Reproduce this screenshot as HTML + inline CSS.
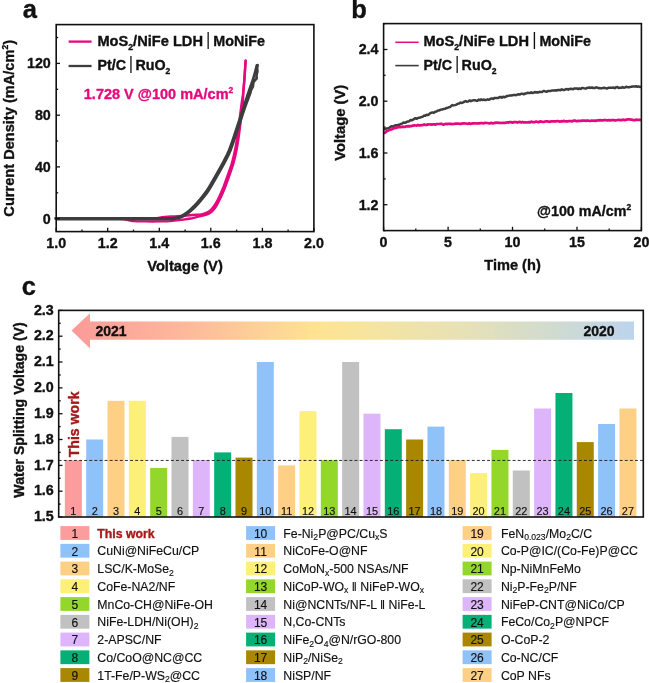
<!DOCTYPE html>
<html><head><meta charset="utf-8"><title>Figure</title>
<style>
html,body{margin:0;padding:0;background:#fff;}
svg{display:block;}
text{font-family:"Liberation Sans",Arial,Helvetica,sans-serif;fill:#111;stroke:#111;stroke-width:.15px;}
.b{font-weight:bold;stroke:#111;stroke-width:.35px;stroke-linejoin:round;}
</style></head><body>
<svg width="649" height="683" viewBox="0 0 649 683">
<defs>
<linearGradient id="ag" x1="0" y1="0" x2="1" y2="0">
<stop offset="0" stop-color="#fb9a99"/>
<stop offset="0.22" stop-color="#fdbc9b"/>
<stop offset="0.36" stop-color="#fed597"/>
<stop offset="0.435" stop-color="#ffe391"/>
<stop offset="0.55" stop-color="#f4e4a3"/>
<stop offset="0.70" stop-color="#e7e1b7"/>
<stop offset="0.85" stop-color="#d1dbcf"/>
<stop offset="1" stop-color="#bcd4ec"/>
</linearGradient>
</defs>
<rect x="0" y="0" width="649" height="683" fill="#fff"/>

<g id="panel-a">
<text class="b" x="22.8" y="17.8" font-size="25.5">a</text>
<path d="M56.0,218.9C66.3,218.9 106.6,218.9 118.0,218.9C129.4,218.9 122.7,219.0 124.5,219.2C126.3,219.4 127.4,219.9 129.0,220.2C130.6,220.5 131.3,220.9 134.0,221.1C136.7,221.3 140.7,221.3 145.0,221.4C149.3,221.5 155.8,221.5 160.0,221.4C164.2,221.3 166.4,221.3 170.0,221.1C173.6,220.8 177.9,220.4 181.6,219.9C185.3,219.4 189.2,218.8 192.4,218.2C195.6,217.5 198.6,216.5 200.6,216.0C202.6,215.5 203.2,215.6 204.6,215.2C205.9,214.8 207.3,214.4 208.7,213.7C210.0,212.9 211.4,212.1 212.7,210.7C214.0,209.3 215.4,207.5 216.7,205.3C218.0,203.1 219.3,200.5 220.7,197.6C222.0,194.7 223.4,191.4 224.8,188.0C226.1,184.6 227.5,180.8 228.8,177.1C230.1,173.3 231.8,168.6 232.8,165.5C233.8,162.4 234.0,161.3 234.6,158.7C235.2,156.1 236.0,152.8 236.6,149.7C237.2,146.6 237.7,143.5 238.2,140.2C238.7,136.9 239.1,133.9 239.6,130.0C240.1,126.1 240.8,120.8 241.3,116.7C241.8,112.6 242.5,109.2 242.8,105.1C243.1,101.0 243.1,96.1 243.3,92.0C243.6,87.9 244.0,84.0 244.3,80.3C244.6,76.6 244.8,73.3 245.0,70.0C245.2,66.7 245.5,62.2 245.6,60.6" fill="none" stroke="#e5087e" stroke-width="2.4" stroke-linejoin="round" stroke-linecap="round"/>
<path d="M56.0,218.7C66.7,218.7 104.3,218.7 120.0,218.7C135.7,218.7 143.8,218.7 150.0,218.6C156.2,218.5 155.0,218.4 157.0,218.2C159.0,218.0 160.2,217.5 162.0,217.2C163.8,216.9 165.8,216.7 168.0,216.6C170.2,216.5 172.7,216.5 175.0,216.4C177.3,216.3 178.7,216.2 181.6,216.0C184.5,215.8 189.4,215.2 192.4,215.0C195.4,214.8 197.6,214.8 199.4,214.6C201.2,214.4 202.1,214.2 203.4,213.8C204.8,213.4 206.2,213.1 207.5,212.3C208.8,211.6 210.2,210.7 211.5,209.3C212.8,207.9 214.2,206.1 215.5,203.9C216.8,201.7 218.2,199.1 219.5,196.2C220.8,193.3 222.2,190.0 223.6,186.6C224.9,183.2 226.3,179.5 227.6,175.7C228.9,172.0 230.6,167.2 231.6,164.1C232.6,161.0 232.8,159.9 233.4,157.3C234.0,154.7 234.8,151.4 235.4,148.3C236.0,145.2 236.5,142.1 237.0,138.8C237.5,135.5 237.9,132.5 238.4,128.6C238.9,124.7 239.6,119.5 240.1,115.3C240.6,111.1 241.1,107.6 241.6,103.7C242.1,99.8 242.9,95.9 243.3,92.0C243.8,88.1 244.0,84.0 244.3,80.3C244.6,76.6 244.8,73.3 245.0,70.0C245.2,66.7 245.5,62.2 245.6,60.6" fill="none" stroke="#e5087e" stroke-width="2.4" stroke-linejoin="round" stroke-linecap="round"/>
<path d="M55.5,218.4C66.2,218.4 101.2,218.4 119.5,218.4C137.8,218.4 156.5,218.5 165.5,218.4C174.5,218.3 171.0,218.3 173.5,218.0C176.0,217.7 178.2,217.3 180.5,216.4C182.8,215.4 185.3,213.7 187.2,212.3C189.1,210.9 190.4,209.6 192.1,208.0C193.8,206.4 195.6,204.6 197.3,202.6C199.1,200.6 200.9,198.5 202.6,196.3C204.3,194.1 205.4,192.9 207.6,189.5C209.8,186.1 212.9,180.5 215.6,175.8C218.3,171.1 221.4,165.6 223.7,161.3C226.0,156.9 227.3,154.7 229.3,149.7C231.3,144.7 233.2,138.7 235.7,131.2C238.2,123.7 242.3,111.2 244.5,104.7C246.7,98.2 247.2,96.0 248.6,92.0C249.9,88.0 251.5,83.8 252.6,80.6C253.7,77.3 254.3,75.0 255.0,72.5C255.7,70.0 256.5,66.6 256.8,65.4" fill="none" stroke="#3d3d3d" stroke-width="2.7" stroke-linejoin="round" stroke-linecap="round"/>
<path d="M56.6,219.1C67.3,219.1 102.3,219.1 120.6,219.1C138.9,219.1 157.6,219.2 166.6,219.1C175.6,219.0 172.1,219.0 174.6,218.7C177.1,218.4 179.3,218.1 181.6,217.1C183.9,216.1 186.4,214.4 188.3,213.0C190.2,211.6 191.5,210.3 193.2,208.7C194.9,207.1 196.7,205.2 198.4,203.3C200.2,201.4 202.0,199.2 203.7,197.0C205.4,194.8 206.5,193.6 208.7,190.2C210.9,186.8 214.0,181.2 216.7,176.5C219.4,171.8 222.5,166.3 224.8,162.0C227.1,157.7 228.4,155.4 230.4,150.4C232.4,145.4 234.3,139.4 236.8,131.9C239.3,124.4 244.1,109.8 245.6,105.4 L250.3,93 L251.2,89.5 L252.9,86.5 L253.3,82.6 L254.9,80.3 L256.6,78.6 L256.5,75 L257.4,71.5 L257.1,68 L257.6,65.2" fill="none" stroke="#3d3d3d" stroke-width="2.7" stroke-linejoin="round" stroke-linecap="round"/>
<rect x="56.2" y="24.6" width="257.7" height="207.0" fill="none" stroke="#111" stroke-width="1.6"/>
<line x1="56.2" y1="231.6" x2="56.2" y2="227.79999999999998" stroke="#111" stroke-width="1.3"/>
<line x1="82.0" y1="231.6" x2="82.0" y2="229.6" stroke="#111" stroke-width="1.3"/>
<line x1="107.7" y1="231.6" x2="107.7" y2="227.79999999999998" stroke="#111" stroke-width="1.3"/>
<line x1="133.5" y1="231.6" x2="133.5" y2="229.6" stroke="#111" stroke-width="1.3"/>
<line x1="159.3" y1="231.6" x2="159.3" y2="227.79999999999998" stroke="#111" stroke-width="1.3"/>
<line x1="185.1" y1="231.6" x2="185.1" y2="229.6" stroke="#111" stroke-width="1.3"/>
<line x1="210.8" y1="231.6" x2="210.8" y2="227.79999999999998" stroke="#111" stroke-width="1.3"/>
<line x1="236.6" y1="231.6" x2="236.6" y2="229.6" stroke="#111" stroke-width="1.3"/>
<line x1="262.4" y1="231.6" x2="262.4" y2="227.79999999999998" stroke="#111" stroke-width="1.3"/>
<line x1="288.1" y1="231.6" x2="288.1" y2="229.6" stroke="#111" stroke-width="1.3"/>
<line x1="313.9" y1="231.6" x2="313.9" y2="227.79999999999998" stroke="#111" stroke-width="1.3"/>
<line x1="56.2" y1="218.7" x2="60.0" y2="218.7" stroke="#111" stroke-width="1.3"/>
<line x1="56.2" y1="192.8" x2="58.2" y2="192.8" stroke="#111" stroke-width="1.3"/>
<line x1="56.2" y1="166.9" x2="60.0" y2="166.9" stroke="#111" stroke-width="1.3"/>
<line x1="56.2" y1="141.0" x2="58.2" y2="141.0" stroke="#111" stroke-width="1.3"/>
<line x1="56.2" y1="115.2" x2="60.0" y2="115.2" stroke="#111" stroke-width="1.3"/>
<line x1="56.2" y1="89.3" x2="58.2" y2="89.3" stroke="#111" stroke-width="1.3"/>
<line x1="56.2" y1="63.4" x2="60.0" y2="63.4" stroke="#111" stroke-width="1.3"/>
<line x1="56.2" y1="37.5" x2="58.2" y2="37.5" stroke="#111" stroke-width="1.3"/>
<text class="b" x="56.2" y="247.6" font-size="14.3" text-anchor="middle">1.0</text>
<text class="b" x="107.7" y="247.6" font-size="14.3" text-anchor="middle">1.2</text>
<text class="b" x="159.3" y="247.6" font-size="14.3" text-anchor="middle">1.4</text>
<text class="b" x="210.8" y="247.6" font-size="14.3" text-anchor="middle">1.6</text>
<text class="b" x="262.4" y="247.6" font-size="14.3" text-anchor="middle">1.8</text>
<text class="b" x="313.9" y="247.6" font-size="14.3" text-anchor="middle">2.0</text>
<text class="b" x="50.8" y="223.6" font-size="14.3" text-anchor="end">0</text>
<text class="b" x="50.8" y="171.8" font-size="14.3" text-anchor="end">40</text>
<text class="b" x="50.8" y="120.1" font-size="14.3" text-anchor="end">80</text>
<text class="b" x="50.8" y="68.3" font-size="14.3" text-anchor="end">120</text>
<text class="b" x="185" y="270.8" font-size="14.5" text-anchor="middle" textLength="75.6" lengthAdjust="spacingAndGlyphs">Voltage (V)</text>
<text class="b" transform="translate(13.9,128.3) rotate(-90)" font-size="14.6" text-anchor="middle">Current Density (mA/cm<tspan font-size="8.5" dy="-5.5">2</tspan><tspan dy="5.5">)</tspan></text>
<line x1="68.6" y1="41.6" x2="91.6" y2="41.6" stroke="#e5087e" stroke-width="2.3"/>
<line x1="68.6" y1="66" x2="91.6" y2="66" stroke="#3d3d3d" stroke-width="2.3"/>
<text class="b" x="97.4" y="46" font-size="14.3" textLength="105.6" lengthAdjust="spacingAndGlyphs">MoS<tspan font-size="8.5" dy="3.5">2</tspan><tspan dy="-3.5">/NiFe LDH</tspan></text>
<text transform="translate(208.2,45.1) scale(0.9,1.1)" font-size="16.5" text-anchor="middle">|</text>
<text class="b" x="213.3" y="46" font-size="14.3">MoNiFe</text>
<text class="b" x="97.4" y="70.1" font-size="14.3">Pt/C</text>
<text transform="translate(131.0,69.2) scale(0.9,1.1)" font-size="16.5" text-anchor="middle">|</text>
<text class="b" x="135.4" y="70.1" font-size="14.3">RuO<tspan font-size="8.5" dy="3.5">2</tspan></text>
<text class="b" x="83.8" y="98.6" font-size="14.5" style="fill:#e5087e;stroke:#e5087e">1.728 V @100 mA/cm<tspan font-size="8.5" dy="-5.5">2</tspan></text>
</g>
<g id="panel-b">
<text class="b" x="351.3" y="17.6" font-size="25.5">b</text>
<polyline points="383.7,129.3 385.1,129.2 386.5,128.5 387.9,128.3 389.2,127.9 390.6,126.7 392.0,126.2 393.3,126.8 394.5,125.7 395.8,125.2 397.0,125.7 398.3,124.7 399.5,124.7 400.8,123.9 402.0,123.6 403.2,122.6 404.5,122.8 405.7,122.6 406.9,121.8 408.1,121.6 409.4,121.1 410.6,119.9 411.8,120.3 413.0,119.7 414.3,118.9 415.5,118.2 416.7,118.8 417.9,117.9 419.2,117.7 420.4,117.5 421.6,116.9 422.8,116.7 424.0,115.6 425.3,115.7 426.5,114.8 427.7,115.0 428.9,114.5 430.2,113.1 431.4,112.7 432.6,112.4 433.8,112.9 435.1,111.8 436.3,111.6 437.5,110.8 438.7,110.6 440.0,110.0 441.2,109.6 442.4,109.4 443.7,108.9 444.9,108.8 446.2,108.1 447.4,107.9 448.7,107.3 450.0,107.0 451.2,106.1 452.5,105.1 453.7,105.4 455.0,105.1 456.4,104.6 457.7,103.8 459.1,103.6 460.5,102.6 461.8,103.0 463.2,102.3 464.4,101.6 465.6,101.1 466.8,101.7 468.0,101.6 469.4,100.4 470.8,101.2 472.2,100.6 473.6,100.2 474.9,100.2 476.1,100.7 477.4,100.7 478.7,99.6 479.9,100.2 481.2,99.4 482.5,100.1 483.7,99.5 485.0,100.1 486.3,100.0 487.7,99.3 489.0,99.8 490.4,98.9 491.7,98.4 493.1,98.9 494.4,98.1 495.6,98.1 496.9,98.1 498.1,98.1 499.3,97.3 500.5,96.9 501.8,97.7 503.0,96.8 504.4,97.2 505.8,96.8 507.2,95.9 508.6,95.7 510.0,95.4 511.2,95.4 512.5,95.2 513.8,95.0 515.0,94.9 516.2,95.2 517.5,94.5 518.8,94.3 520.0,94.5 521.2,93.7 522.5,93.7 523.8,94.3 525.0,93.6 526.2,93.5 527.5,92.7 528.8,93.0 530.0,93.1 531.2,92.3 532.4,92.9 533.6,92.8 534.8,92.0 536.0,92.5 537.2,92.2 538.4,92.4 539.6,91.8 540.8,92.1 542.0,92.1 543.2,91.1 544.4,91.0 545.6,91.6 546.8,91.8 548.0,90.9 549.2,91.0 550.4,91.0 551.6,90.6 552.9,90.5 554.1,90.4 555.4,90.3 556.7,90.5 558.0,90.0 559.2,90.0 560.5,90.3 561.8,89.3 563.1,89.9 564.4,90.0 565.6,89.3 566.9,89.1 568.2,89.7 569.5,88.9 570.7,88.7 572.0,88.9 573.2,89.2 574.5,88.4 575.7,88.6 577.0,88.5 578.2,89.0 579.5,88.5 580.7,88.9 582.0,88.0 583.2,88.1 584.5,88.4 585.7,88.6 587.0,88.0 588.2,87.7 589.5,87.5 590.7,87.9 592.0,87.4 593.2,88.1 594.6,88.1 595.9,87.4 597.3,87.6 598.6,88.2 600.0,88.1 601.4,88.4 602.9,87.9 604.3,87.8 605.7,88.1 607.0,88.6 608.3,87.8 609.6,87.8 610.9,87.8 612.2,87.7 613.5,87.6 614.8,88.2 616.1,87.2 617.4,86.9 618.7,87.9 620.0,87.8 621.2,87.8 622.5,87.1 623.8,87.7 625.0,87.6 626.2,86.7 627.5,87.2 628.8,87.3 630.0,87.0 631.2,86.8 632.4,86.5 633.7,86.5 634.9,86.4 636.1,86.2 637.3,86.8 638.6,86.4 639.8,87.0 641.0,86.6" fill="none" stroke="#3d3d3d" stroke-width="2.5" stroke-linejoin="round"/>
<polyline points="383.7,133.4 385.0,132.6 387.0,131.0 388.7,130.4 390.4,129.6 391.9,129.2 393.5,128.5 395.0,127.6 396.4,127.9 397.9,127.2 399.4,127.1 400.8,127.1 402.0,126.9 403.2,126.7 404.5,127.0 405.7,126.6 406.9,126.3 408.1,126.1 409.4,126.4 410.6,126.0 411.8,126.1 413.0,125.6 414.3,125.4 415.5,125.5 416.7,125.6 417.9,125.0 419.2,125.4 420.4,125.4 421.6,125.1 422.9,125.1 424.2,124.4 425.4,124.9 426.7,125.0 428.0,124.3 429.2,124.5 430.5,124.4 431.8,124.6 433.1,124.4 434.4,124.4 435.6,124.6 436.9,124.0 438.2,124.0 439.4,124.0 440.7,123.9 442.0,123.9 443.2,124.6 444.5,124.4 445.7,123.8 447.0,124.1 448.2,123.9 449.5,123.9 450.7,123.9 452.0,124.1 453.2,124.0 454.5,123.8 455.7,123.6 457.0,123.7 458.2,123.5 459.5,123.8 460.7,123.9 462.0,123.6 463.2,123.4 464.4,123.4 465.6,123.5 466.9,123.7 468.1,123.8 469.3,123.4 470.5,123.8 471.7,123.6 472.9,123.4 474.2,123.3 475.4,123.4 476.6,123.5 477.8,123.3 479.0,123.4 480.3,123.2 481.5,123.0 482.7,123.2 483.9,123.3 485.1,122.8 486.3,123.0 487.6,123.0 488.8,123.3 490.0,123.3 491.2,122.9 492.5,123.3 493.8,123.1 495.0,122.7 496.2,122.8 497.5,122.5 498.8,123.0 500.0,122.9 501.2,123.0 502.5,122.9 503.8,122.8 505.0,122.8 506.2,122.7 507.5,122.3 508.8,122.6 510.0,122.1 511.2,122.2 512.5,122.7 513.8,122.1 515.0,122.1 516.2,122.0 517.5,122.6 518.8,122.1 520.0,121.9 521.2,122.5 522.5,121.9 523.8,122.5 525.0,122.3 526.2,122.4 527.5,122.5 528.8,122.1 530.0,122.3 531.2,121.6 532.5,122.2 533.8,122.0 535.0,122.1 536.2,121.6 537.5,122.1 538.8,122.2 540.0,121.4 541.2,121.6 542.5,121.8 543.7,122.0 545.0,121.5 546.2,121.4 547.5,121.4 548.7,121.7 550.0,121.8 551.2,121.4 552.5,121.4 553.7,121.4 555.0,121.3 556.2,121.3 557.4,121.0 558.7,121.3 559.9,121.7 561.2,121.2 562.4,121.4 563.7,120.9 564.9,121.3 566.2,121.4 567.4,121.3 568.7,121.1 569.9,121.0 571.2,121.1 572.4,121.3 573.6,120.7 574.8,120.6 576.0,121.1 577.2,121.2 578.4,120.9 579.6,120.8 580.8,121.0 582.0,120.6 583.2,120.6 584.4,120.5 585.6,120.8 586.8,120.6 588.0,120.5 589.2,120.8 590.4,121.0 591.6,120.5 592.8,120.8 594.0,120.5 595.2,120.9 596.4,120.6 597.6,120.4 598.8,120.3 600.0,120.1 601.2,120.4 602.5,120.3 603.8,120.1 605.0,120.2 606.2,120.2 607.5,120.5 608.8,120.0 610.0,120.6 611.2,120.1 612.5,120.2 613.8,120.1 615.0,120.3 616.2,120.3 617.5,120.0 618.8,119.9 620.0,120.1 621.3,120.1 622.7,119.7 624.0,119.9 625.4,120.1 626.7,119.6 628.0,119.4 629.4,119.3 630.7,119.7 632.0,119.7 633.4,120.1 634.7,120.1 636.0,119.7 637.2,119.8 638.5,119.9 639.8,119.9 641.0,120.3" fill="none" stroke="#e5087e" stroke-width="2.7" stroke-linejoin="round"/>
<rect x="383.6" y="23.6" width="257.8" height="207.0" fill="none" stroke="#111" stroke-width="1.6"/>
<line x1="383.6" y1="230.6" x2="383.6" y2="226.79999999999998" stroke="#111" stroke-width="1.3"/>
<line x1="415.8" y1="230.6" x2="415.8" y2="228.6" stroke="#111" stroke-width="1.3"/>
<line x1="448.1" y1="230.6" x2="448.1" y2="226.79999999999998" stroke="#111" stroke-width="1.3"/>
<line x1="480.3" y1="230.6" x2="480.3" y2="228.6" stroke="#111" stroke-width="1.3"/>
<line x1="512.5" y1="230.6" x2="512.5" y2="226.79999999999998" stroke="#111" stroke-width="1.3"/>
<line x1="544.7" y1="230.6" x2="544.7" y2="228.6" stroke="#111" stroke-width="1.3"/>
<line x1="577.0" y1="230.6" x2="577.0" y2="226.79999999999998" stroke="#111" stroke-width="1.3"/>
<line x1="609.2" y1="230.6" x2="609.2" y2="228.6" stroke="#111" stroke-width="1.3"/>
<line x1="641.4" y1="230.6" x2="641.4" y2="226.79999999999998" stroke="#111" stroke-width="1.3"/>
<line x1="383.6" y1="230.6" x2="385.6" y2="230.6" stroke="#111" stroke-width="1.3"/>
<line x1="383.6" y1="204.7" x2="387.40000000000003" y2="204.7" stroke="#111" stroke-width="1.3"/>
<line x1="383.6" y1="178.9" x2="385.6" y2="178.9" stroke="#111" stroke-width="1.3"/>
<line x1="383.6" y1="153.0" x2="387.40000000000003" y2="153.0" stroke="#111" stroke-width="1.3"/>
<line x1="383.6" y1="127.1" x2="385.6" y2="127.1" stroke="#111" stroke-width="1.3"/>
<line x1="383.6" y1="101.2" x2="387.40000000000003" y2="101.2" stroke="#111" stroke-width="1.3"/>
<line x1="383.6" y1="75.3" x2="385.6" y2="75.3" stroke="#111" stroke-width="1.3"/>
<line x1="383.6" y1="49.5" x2="387.40000000000003" y2="49.5" stroke="#111" stroke-width="1.3"/>
<line x1="383.6" y1="23.6" x2="385.6" y2="23.6" stroke="#111" stroke-width="1.3"/>
<text class="b" x="383.6" y="246.8" font-size="14.3" text-anchor="middle">0</text>
<text class="b" x="448.1" y="246.8" font-size="14.3" text-anchor="middle">5</text>
<text class="b" x="512.5" y="246.8" font-size="14.3" text-anchor="middle">10</text>
<text class="b" x="577.0" y="246.8" font-size="14.3" text-anchor="middle">15</text>
<text class="b" x="641.4" y="246.8" font-size="14.3" text-anchor="middle">20</text>
<text class="b" x="378.5" y="209.6" font-size="14.3" text-anchor="end">1.2</text>
<text class="b" x="378.5" y="157.9" font-size="14.3" text-anchor="end">1.6</text>
<text class="b" x="378.5" y="106.1" font-size="14.3" text-anchor="end">2.0</text>
<text class="b" x="378.5" y="54.4" font-size="14.3" text-anchor="end">2.4</text>
<text class="b" x="512.5" y="270.3" font-size="14.6" text-anchor="middle">Time (h)</text>
<text class="b" transform="translate(345.3,122.8) rotate(-90)" font-size="14.6" text-anchor="middle" textLength="76" lengthAdjust="spacingAndGlyphs">Voltage (V)</text>
<line x1="395.3" y1="42.3" x2="418.7" y2="42.3" stroke="#e5087e" stroke-width="1.5"/>
<line x1="395.3" y1="65.6" x2="418.7" y2="65.6" stroke="#3d3d3d" stroke-width="1.6"/>
<text class="b" x="423.4" y="46" font-size="14.3" textLength="105.6" lengthAdjust="spacingAndGlyphs">MoS<tspan font-size="8.5" dy="3.5">2</tspan><tspan dy="-3.5">/NiFe LDH</tspan></text>
<text transform="translate(534.4,45.1) scale(0.9,1.1)" font-size="16.5" text-anchor="middle">|</text>
<text class="b" x="539.4" y="46" font-size="14.3">MoNiFe</text>
<text class="b" x="423.4" y="70.1" font-size="14.3">Pt/C</text>
<text transform="translate(457.2,69.2) scale(0.9,1.1)" font-size="16.5" text-anchor="middle">|</text>
<text class="b" x="461.6" y="70.1" font-size="14.3">RuO<tspan font-size="8.5" dy="3.5">2</tspan></text>
<text class="b" x="537" y="215.5" font-size="14.3">@100 mA/cm<tspan font-size="8.5" dy="-5.5">2</tspan></text>
</g>
<g id="panel-c">
<text class="b" x="21.8" y="294.6" font-size="25.5">c</text>
<polygon points="71.5,330.6 90,313.3 90,321.6 634,321.6 634,339.8 90,339.8 90,348.5" fill="url(#ag)"/>
<text class="b" x="95.4" y="335.6" font-size="14">2021</text>
<text class="b" x="583.4" y="335.9" font-size="14">2020</text>
<rect x="64.85" y="460.2" width="17" height="56.8" fill="#fb9d9c"/>
<text x="73.3" y="515.2" font-size="10.9" text-anchor="middle">1</text>
<rect x="86.18" y="439.5" width="17" height="77.5" fill="#8ec2f8"/>
<text x="94.7" y="515.2" font-size="10.9" text-anchor="middle">2</text>
<rect x="107.51" y="400.8" width="17" height="116.2" fill="#fdd086"/>
<text x="116.0" y="515.2" font-size="10.9" text-anchor="middle">3</text>
<rect x="128.84" y="400.8" width="17" height="116.2" fill="#fdf07a"/>
<text x="137.3" y="515.2" font-size="10.9" text-anchor="middle">4</text>
<rect x="150.17" y="467.9" width="17" height="49.1" fill="#93d72a"/>
<text x="158.7" y="515.2" font-size="10.9" text-anchor="middle">5</text>
<rect x="171.50" y="436.9" width="17" height="80.1" fill="#c1c1c1"/>
<text x="180.0" y="515.2" font-size="10.9" text-anchor="middle">6</text>
<rect x="192.83" y="460.2" width="17" height="56.8" fill="#deb5fb"/>
<text x="201.3" y="515.2" font-size="10.9" text-anchor="middle">7</text>
<rect x="214.16" y="452.4" width="17" height="64.6" fill="#05b077"/>
<text x="222.7" y="515.2" font-size="10.9" text-anchor="middle">8</text>
<rect x="235.49" y="457.6" width="17" height="59.4" fill="#a98700"/>
<text x="244.0" y="515.2" font-size="10.9" text-anchor="middle">9</text>
<rect x="256.82" y="362.0" width="17" height="155.0" fill="#8ec2f8"/>
<text x="265.3" y="515.2" font-size="10.9" text-anchor="middle">10</text>
<rect x="278.15" y="465.4" width="17" height="51.6" fill="#fdd086"/>
<text x="286.6" y="515.2" font-size="10.9" text-anchor="middle">11</text>
<rect x="299.48" y="411.1" width="17" height="105.9" fill="#fdf07a"/>
<text x="308.0" y="515.2" font-size="10.9" text-anchor="middle">12</text>
<rect x="320.81" y="460.2" width="17" height="56.8" fill="#93d72a"/>
<text x="329.3" y="515.2" font-size="10.9" text-anchor="middle">13</text>
<rect x="342.14" y="362.0" width="17" height="155.0" fill="#c1c1c1"/>
<text x="350.6" y="515.2" font-size="10.9" text-anchor="middle">14</text>
<rect x="363.47" y="413.7" width="17" height="103.3" fill="#deb5fb"/>
<text x="372.0" y="515.2" font-size="10.9" text-anchor="middle">15</text>
<rect x="384.80" y="429.2" width="17" height="87.8" fill="#05b077"/>
<text x="393.3" y="515.2" font-size="10.9" text-anchor="middle">16</text>
<rect x="406.13" y="439.5" width="17" height="77.5" fill="#a98700"/>
<text x="414.6" y="515.2" font-size="10.9" text-anchor="middle">17</text>
<rect x="427.46" y="426.6" width="17" height="90.4" fill="#8ec2f8"/>
<text x="436.0" y="515.2" font-size="10.9" text-anchor="middle">18</text>
<rect x="448.79" y="460.2" width="17" height="56.8" fill="#fdd086"/>
<text x="457.3" y="515.2" font-size="10.9" text-anchor="middle">19</text>
<rect x="470.12" y="473.1" width="17" height="43.9" fill="#fdf07a"/>
<text x="478.6" y="515.2" font-size="10.9" text-anchor="middle">20</text>
<rect x="491.45" y="449.9" width="17" height="67.1" fill="#93d72a"/>
<text x="499.9" y="515.2" font-size="10.9" text-anchor="middle">21</text>
<rect x="512.78" y="470.5" width="17" height="46.5" fill="#c1c1c1"/>
<text x="521.3" y="515.2" font-size="10.9" text-anchor="middle">22</text>
<rect x="534.11" y="408.5" width="17" height="108.5" fill="#deb5fb"/>
<text x="542.6" y="515.2" font-size="10.9" text-anchor="middle">23</text>
<rect x="555.44" y="393.0" width="17" height="124.0" fill="#05b077"/>
<text x="563.9" y="515.2" font-size="10.9" text-anchor="middle">24</text>
<rect x="576.77" y="442.1" width="17" height="74.9" fill="#a98700"/>
<text x="585.3" y="515.2" font-size="10.9" text-anchor="middle">25</text>
<rect x="598.10" y="424.0" width="17" height="93.0" fill="#8ec2f8"/>
<text x="606.6" y="515.2" font-size="10.9" text-anchor="middle">26</text>
<rect x="619.43" y="408.5" width="17" height="108.5" fill="#fdd086"/>
<text x="627.9" y="515.2" font-size="10.9" text-anchor="middle">27</text>
<line x1="58.7" y1="460.45" x2="643.3" y2="460.45" stroke="#1a1a1a" stroke-width="0.9" stroke-dasharray="2.9,2.2"/>
<text class="b" transform="translate(79.3,457.3) rotate(-90)" font-size="14.1" style="fill:#a31a1a;stroke:#a31a1a">This work</text>
<rect x="58.7" y="310.4" width="584.6" height="206.6" fill="none" stroke="#111" stroke-width="1.6"/>
<line x1="58.7" y1="517.0" x2="62.5" y2="517.0" stroke="#111" stroke-width="1.3"/>
<line x1="58.7" y1="504.1" x2="60.7" y2="504.1" stroke="#111" stroke-width="1.3"/>
<line x1="58.7" y1="491.2" x2="62.5" y2="491.2" stroke="#111" stroke-width="1.3"/>
<line x1="58.7" y1="478.3" x2="60.7" y2="478.3" stroke="#111" stroke-width="1.3"/>
<line x1="58.7" y1="465.4" x2="62.5" y2="465.4" stroke="#111" stroke-width="1.3"/>
<line x1="58.7" y1="452.4" x2="60.7" y2="452.4" stroke="#111" stroke-width="1.3"/>
<line x1="58.7" y1="439.5" x2="62.5" y2="439.5" stroke="#111" stroke-width="1.3"/>
<line x1="58.7" y1="426.6" x2="60.7" y2="426.6" stroke="#111" stroke-width="1.3"/>
<line x1="58.7" y1="413.7" x2="62.5" y2="413.7" stroke="#111" stroke-width="1.3"/>
<line x1="58.7" y1="400.8" x2="60.7" y2="400.8" stroke="#111" stroke-width="1.3"/>
<line x1="58.7" y1="387.9" x2="62.5" y2="387.9" stroke="#111" stroke-width="1.3"/>
<line x1="58.7" y1="375.0" x2="60.7" y2="375.0" stroke="#111" stroke-width="1.3"/>
<line x1="58.7" y1="362.0" x2="62.5" y2="362.0" stroke="#111" stroke-width="1.3"/>
<line x1="58.7" y1="349.1" x2="60.7" y2="349.1" stroke="#111" stroke-width="1.3"/>
<line x1="58.7" y1="336.2" x2="62.5" y2="336.2" stroke="#111" stroke-width="1.3"/>
<line x1="58.7" y1="323.3" x2="60.7" y2="323.3" stroke="#111" stroke-width="1.3"/>
<line x1="58.7" y1="310.4" x2="62.5" y2="310.4" stroke="#111" stroke-width="1.3"/>
<text class="b" x="53.8" y="521.2" font-size="14.3" text-anchor="end">1.5</text>
<text class="b" x="53.8" y="495.4" font-size="14.3" text-anchor="end">1.6</text>
<text class="b" x="53.8" y="469.6" font-size="14.3" text-anchor="end">1.7</text>
<text class="b" x="53.8" y="443.7" font-size="14.3" text-anchor="end">1.8</text>
<text class="b" x="53.8" y="417.9" font-size="14.3" text-anchor="end">1.9</text>
<text class="b" x="53.8" y="392.1" font-size="14.3" text-anchor="end">2.0</text>
<text class="b" x="53.8" y="366.2" font-size="14.3" text-anchor="end">2.1</text>
<text class="b" x="53.8" y="340.4" font-size="14.3" text-anchor="end">2.2</text>
<text class="b" x="53.8" y="314.6" font-size="14.3" text-anchor="end">2.3</text>
<text class="b" transform="translate(24.4,410) rotate(-90)" font-size="14.6" text-anchor="middle" textLength="175.3" lengthAdjust="spacingAndGlyphs">Water Splitting Voltage (V)</text>
<rect x="60.4" y="526.10" width="29" height="13.8" fill="#fb9d9c"/>
<text x="74.9" y="537.80" font-size="12" text-anchor="middle">1</text>
<text class="b" x="97.3" y="537.70" font-size="12.3" style="fill:#a31a1a;stroke:#a31a1a">This work</text>
<rect x="60.4" y="543.85" width="29" height="13.8" fill="#8ec2f8"/>
<text x="74.9" y="555.55" font-size="12" text-anchor="middle">2</text>
<text x="97.3" y="555.45" font-size="12.3">CuNi@NiFeCu/CP</text>
<rect x="60.4" y="561.60" width="29" height="13.8" fill="#fdd086"/>
<text x="74.9" y="573.30" font-size="12" text-anchor="middle">3</text>
<text x="97.3" y="573.20" font-size="12.3">LSC/K-MoSe<tspan font-size="8.6" dy="2.5">2</tspan></text>
<rect x="60.4" y="579.35" width="29" height="13.8" fill="#fdf07a"/>
<text x="74.9" y="591.05" font-size="12" text-anchor="middle">4</text>
<text x="97.3" y="590.95" font-size="12.3">CoFe-NA2/NF</text>
<rect x="60.4" y="597.10" width="29" height="13.8" fill="#93d72a"/>
<text x="74.9" y="608.80" font-size="12" text-anchor="middle">5</text>
<text x="97.3" y="608.70" font-size="12.3">MnCo-CH@NiFe-OH</text>
<rect x="60.4" y="614.85" width="29" height="13.8" fill="#c1c1c1"/>
<text x="74.9" y="626.55" font-size="12" text-anchor="middle">6</text>
<text x="97.3" y="626.45" font-size="12.3">NiFe-LDH/Ni(OH)<tspan font-size="8.6" dy="2.5">2</tspan></text>
<rect x="60.4" y="632.60" width="29" height="13.8" fill="#deb5fb"/>
<text x="74.9" y="644.30" font-size="12" text-anchor="middle">7</text>
<text x="97.3" y="644.20" font-size="12.3">2-APSC/NF</text>
<rect x="60.4" y="650.35" width="29" height="13.8" fill="#05b077"/>
<text x="74.9" y="662.05" font-size="12" text-anchor="middle">8</text>
<text x="97.3" y="661.95" font-size="12.3">Co/CoO@NC@CC</text>
<rect x="60.4" y="668.10" width="29" height="13.8" fill="#a98700"/>
<text x="74.9" y="679.80" font-size="12" text-anchor="middle">9</text>
<text x="97.3" y="679.70" font-size="12.3">1T-Fe/P-WS<tspan font-size="8.6" dy="2.5">2</tspan><tspan dy="-2.5">@CC</tspan></text>
<rect x="246.1" y="526.10" width="29" height="13.8" fill="#8ec2f8"/>
<text x="260.6" y="537.80" font-size="12" text-anchor="middle">10</text>
<text x="283.3" y="537.70" font-size="12.3">Fe-Ni<tspan font-size="8.6" dy="2.5">2</tspan><tspan dy="-2.5">P@PC/Cu</tspan><tspan font-size="8.6" dy="2.5">x</tspan><tspan dy="-2.5">S</tspan></text>
<rect x="246.1" y="543.85" width="29" height="13.8" fill="#fdd086"/>
<text x="260.6" y="555.55" font-size="12" text-anchor="middle">11</text>
<text x="283.3" y="555.45" font-size="12.3">NiCoFe-O@NF</text>
<rect x="246.1" y="561.60" width="29" height="13.8" fill="#fdf07a"/>
<text x="260.6" y="573.30" font-size="12" text-anchor="middle">12</text>
<text x="283.3" y="573.20" font-size="12.3">CoMoN<tspan font-size="8.6" dy="2.5">x</tspan><tspan dy="-2.5">-500 NSAs/NF</tspan></text>
<rect x="246.1" y="579.35" width="29" height="13.8" fill="#93d72a"/>
<text x="260.6" y="591.05" font-size="12" text-anchor="middle">13</text>
<text x="283.3" y="590.95" font-size="12.3">NiCoP-WO<tspan font-size="8.6" dy="2.5">x</tspan><tspan dy="-2.5"> ‖ NiFeP-WO</tspan><tspan font-size="8.6" dy="2.5">x</tspan></text>
<rect x="246.1" y="597.10" width="29" height="13.8" fill="#c1c1c1"/>
<text x="260.6" y="608.80" font-size="12" text-anchor="middle">14</text>
<text x="283.3" y="608.70" font-size="12.3">Ni@NCNTs/NF-L ‖ NiFe-L</text>
<rect x="246.1" y="614.85" width="29" height="13.8" fill="#deb5fb"/>
<text x="260.6" y="626.55" font-size="12" text-anchor="middle">15</text>
<text x="283.3" y="626.45" font-size="12.3">N,Co-CNTs</text>
<rect x="246.1" y="632.60" width="29" height="13.8" fill="#05b077"/>
<text x="260.6" y="644.30" font-size="12" text-anchor="middle">16</text>
<text x="283.3" y="644.20" font-size="12.3">NiFe<tspan font-size="8.6" dy="2.5">2</tspan><tspan dy="-2.5">O</tspan><tspan font-size="8.6" dy="2.5">4</tspan><tspan dy="-2.5">@N/rGO-800</tspan></text>
<rect x="246.1" y="650.35" width="29" height="13.8" fill="#a98700"/>
<text x="260.6" y="662.05" font-size="12" text-anchor="middle">17</text>
<text x="283.3" y="661.95" font-size="12.3">NiP<tspan font-size="8.6" dy="2.5">2</tspan><tspan dy="-2.5">/NiSe</tspan><tspan font-size="8.6" dy="2.5">2</tspan></text>
<rect x="246.1" y="668.10" width="29" height="13.8" fill="#8ec2f8"/>
<text x="260.6" y="679.80" font-size="12" text-anchor="middle">18</text>
<text x="283.3" y="679.70" font-size="12.3">NiSP/NF</text>
<rect x="462.6" y="526.10" width="29" height="13.8" fill="#fdd086"/>
<text x="477.1" y="537.80" font-size="12" text-anchor="middle">19</text>
<text x="500.9" y="537.70" font-size="12.3">FeN<tspan font-size="8.6" dy="2.5">0.023</tspan><tspan dy="-2.5">/Mo</tspan><tspan font-size="8.6" dy="2.5">2</tspan><tspan dy="-2.5">C/C</tspan></text>
<rect x="462.6" y="543.85" width="29" height="13.8" fill="#fdf07a"/>
<text x="477.1" y="555.55" font-size="12" text-anchor="middle">20</text>
<text x="500.9" y="555.45" font-size="12.3">Co-P@IC/(Co-Fe)P@CC</text>
<rect x="462.6" y="561.60" width="29" height="13.8" fill="#93d72a"/>
<text x="477.1" y="573.30" font-size="12" text-anchor="middle">21</text>
<text x="500.9" y="573.20" font-size="12.3">Np-NiMnFeMo</text>
<rect x="462.6" y="579.35" width="29" height="13.8" fill="#c1c1c1"/>
<text x="477.1" y="591.05" font-size="12" text-anchor="middle">22</text>
<text x="500.9" y="590.95" font-size="12.3">Ni<tspan font-size="8.6" dy="2.5">2</tspan><tspan dy="-2.5">P-Fe</tspan><tspan font-size="8.6" dy="2.5">2</tspan><tspan dy="-2.5">P/NF</tspan></text>
<rect x="462.6" y="597.10" width="29" height="13.8" fill="#deb5fb"/>
<text x="477.1" y="608.80" font-size="12" text-anchor="middle">23</text>
<text x="500.9" y="608.70" font-size="12.3">NiFeP-CNT@NiCo/CP</text>
<rect x="462.6" y="614.85" width="29" height="13.8" fill="#05b077"/>
<text x="477.1" y="626.55" font-size="12" text-anchor="middle">24</text>
<text x="500.9" y="626.45" font-size="12.3">FeCo/Co<tspan font-size="8.6" dy="2.5">2</tspan><tspan dy="-2.5">P@NPCF</tspan></text>
<rect x="462.6" y="632.60" width="29" height="13.8" fill="#a98700"/>
<text x="477.1" y="644.30" font-size="12" text-anchor="middle">25</text>
<text x="500.9" y="644.20" font-size="12.3">O-CoP-2</text>
<rect x="462.6" y="650.35" width="29" height="13.8" fill="#8ec2f8"/>
<text x="477.1" y="662.05" font-size="12" text-anchor="middle">26</text>
<text x="500.9" y="661.95" font-size="12.3">Co-NC/CF</text>
<rect x="462.6" y="668.10" width="29" height="13.8" fill="#fdd086"/>
<text x="477.1" y="679.80" font-size="12" text-anchor="middle">27</text>
<text x="500.9" y="679.70" font-size="12.3">CoP NFs</text>
</g>
</svg></body></html>
